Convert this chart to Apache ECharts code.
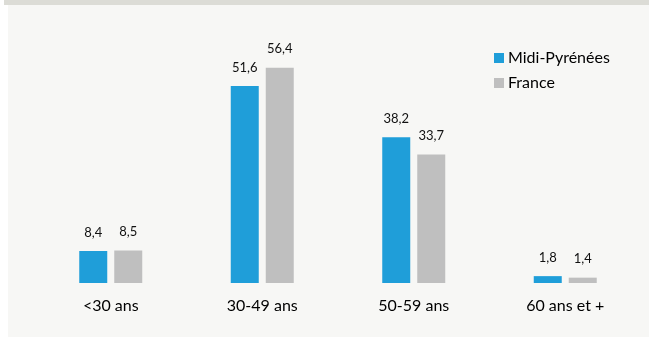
<!DOCTYPE html>
<html>
<head>
<meta charset="utf-8">
<script src="https://cdn.jsdelivr.net/npm/echarts@6/dist/echarts.min.js"></script>
<style>
  html, body { margin: 0; padding: 0; background: #ffffff; }
  #chart { width: 649px; height: 338px; }
</style>
</head>
<body>
<div id="chart"></div>
<script>
// Age bands and shares (%) for each area
const categories = ['<30 ans', '30-49 ans', '50-59 ans', '60 ans et +'];
const midiPyrenees = [8.4, 51.6, 38.2, 1.8];
const france = [8.5, 56.4, 33.7, 1.4];
const seriesNames = ['Midi-Pyrénées', 'France'];

const fmt = p => String(p.value).replace('.', ',');
const font = 'Lato, Open Sans, sans-serif';

const chart = echarts.init(document.getElementById('chart'), null, { renderer: 'canvas' });
chart.setOption({
  backgroundColor: '#ffffff',
  animation: false,
  graphic: [
    { type: 'rect', z: -10, shape: { x: 4, y: 0, width: 645, height: 5 }, style: { fill: '#dcdcd6' } },
    { type: 'rect', z: -10, shape: { x: 8, y: 5, width: 641, height: 332 }, style: { fill: '#f7f7f5' } }
  ],
  legend: {
    orient: 'vertical',
    left: 489,
    top: 45,
    itemWidth: 10,
    itemHeight: 10,
    itemGap: 9,
    icon: 'rect',
    textStyle: { fontFamily: font, fontSize: 16, color: '#000', padding: [0, 0, 0, -1] },
    data: seriesNames
  },
  grid: { left: 35, width: 606, top: 54, height: 229 },
  xAxis: {
    type: 'category',
    data: categories,
    axisLine: { show: false },
    axisTick: { show: false },
    axisLabel: { margin: 15, fontFamily: font, fontSize: 16, color: '#000' }
  },
  yAxis: { type: 'value', min: 0, max: 60, show: false, splitLine: { show: false } },
  series: [
    {
      name: seriesNames[0], type: 'bar', data: midiPyrenees, barWidth: 28, barGap: '25%',
      itemStyle: { color: '#1f9ed9' },
      label: { show: true, position: 'top', distance: 12, formatter: fmt, fontFamily: font, fontSize: 13, color: '#111' }
    },
    {
      name: seriesNames[1], type: 'bar', data: france, barWidth: 28,
      itemStyle: { color: '#bfbfbf' },
      label: { show: true, position: 'top', distance: 12, formatter: fmt, fontFamily: font, fontSize: 13, color: '#111' }
    }
  ]
});
</script>
</body>
</html>
